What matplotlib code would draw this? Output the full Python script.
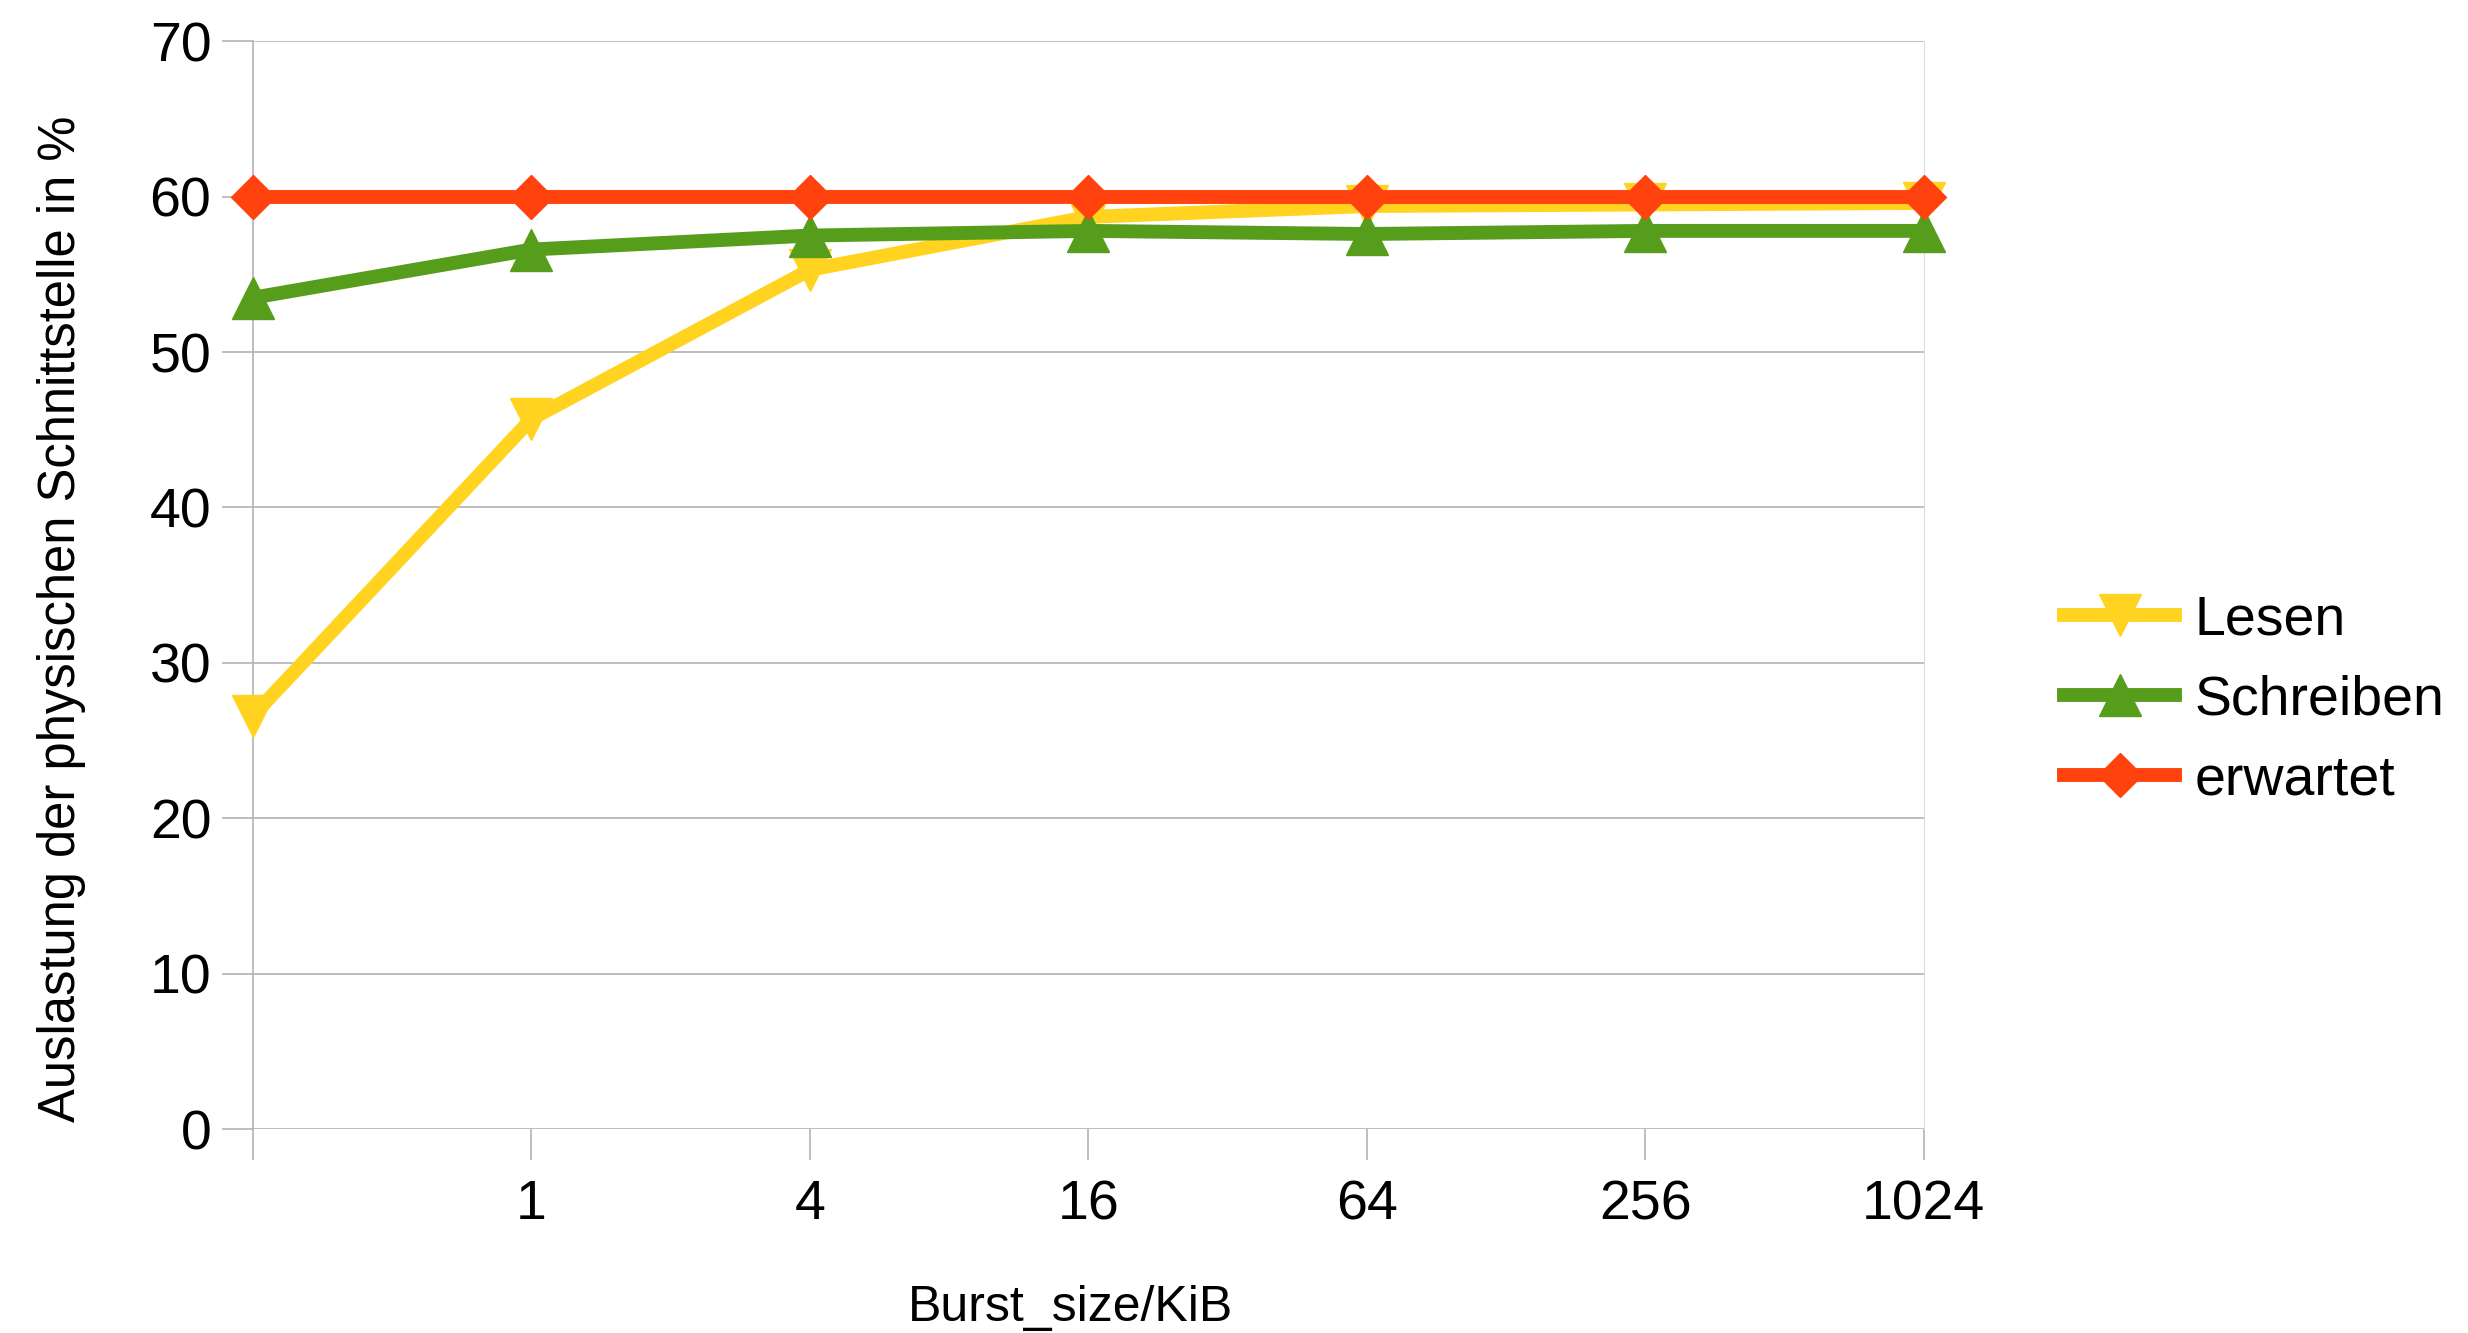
import matplotlib
matplotlib.use('Agg')
import matplotlib.pyplot as plt

plt.rcParams['font.family'] = ['Liberation Sans', 'DejaVu Sans']

burst_labels = ['', '1', '4', '16', '64', '256', '1024']
lesen = [26.6, 45.7, 55.3, 58.7, 59.4, 59.5, 59.6]
schreiben = [53.5, 56.6, 57.5, 57.8, 57.6, 57.8, 57.8]
erwartet = [60, 60, 60, 60, 60, 60, 60]

x = list(range(len(burst_labels)))

fig = plt.figure(figsize=(24.68, 13.33), dpi=100)
ax = fig.add_axes([0.1025, 0.153, 0.677, 0.816])

ax.plot(x, lesen, color='#ffd320', lw=10, marker='v', markersize=30, label='Lesen', zorder=3, clip_on=False)
ax.plot(x, schreiben, color='#579d1c', lw=10, marker='^', markersize=30, label='Schreiben', zorder=4, clip_on=False)
ax.plot(x, erwartet, color='#ff420e', lw=10, marker='D', markersize=22, label='erwartet', zorder=5, clip_on=False)

ax.set_xlim(0, 6)
ax.set_ylim(0, 70)
ax.set_yticks(range(0, 71, 10))
ax.set_xticks(x)
ax.set_xticklabels(burst_labels)
ax.grid(axis='y', color='#b3b3b3', lw=1.2)
ax.set_axisbelow(True)
for s in ['top', 'bottom']:
    ax.spines[s].set_visible(False)
ax.spines['left'].set_color('#b3b3b3')
ax.spines['right'].set_color('#dddddd')
ax.spines['left'].set_linewidth(1.2)
ax.tick_params(axis='both', length=22, width=1.2, color='#b3b3b3', labelsize=40)
ax.tick_params(axis='x', pad=14)
ax.tick_params(axis='y', pad=8)

ax.set_xlabel('Burst_size/KiB', fontsize=36)
ax.set_ylabel('Auslastung der physischen Schnittstelle in %', fontsize=36.5)
ax.xaxis.set_label_coords(0.489, -0.143)
ax.yaxis.set_label_coords(-0.100, 0.469)

ax.legend(loc='center left', bbox_to_anchor=(1.054, 0.394), frameon=False, fontsize=40,
          handlelength=2.0, handletextpad=0.35, labelspacing=0.5)

fig.savefig('out.png', dpi=100)
